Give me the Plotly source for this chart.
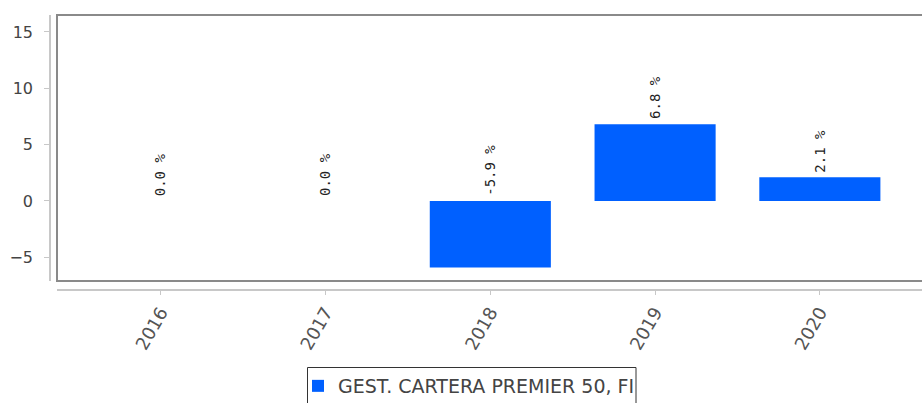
import plotly.graph_objects as go

years = ["2016", "2017", "2018", "2019", "2020"]
returns = [0.0, 0.0, -5.9, 6.8, 2.1]
labels = ["0.0 %", "0.0 %", "-5.9 %", "6.8 %", "2.1 %"]
series_name = "GEST. CARTERA PREMIER 50, FI"
y_ticks = [-5, 0, 5, 10, 15]

W, H = 922, 403
px_x = lambda p: p / W
px_y = lambda p: 1 - p / H

fig = go.Figure()
fig.add_trace(go.Bar(
    x=years, y=returns, name=series_name,
    marker=dict(color="#0060FF", line=dict(width=0)),
    width=0.735, showlegend=True,
))

for i, (v, t) in enumerate(zip(returns, labels)):
    fig.add_annotation(
        xref="x", yref="y",
        x=i, y=max(v, 0), text=t, textangle=-90, showarrow=False,
        xanchor="center", yanchor="bottom", yshift=3,
        font=dict(family="DejaVu Sans Mono", size=14, color="#222"),
    )

x0d, x1d = px_x(57), 1.0
y0d, y1d = px_y(281), px_y(15)

# plot frame
fig.add_shape(type="rect", xref="paper", yref="paper",
              x0=x0d, x1=1.05, y0=y0d, y1=y1d,
              line=dict(color="#8a8a8a", width=2), fillcolor="rgba(0,0,0,0)")
# legend frame
fig.add_shape(type="rect", xref="paper", yref="paper",
              x0=px_x(307.5), x1=px_x(636), y0=-0.05, y1=px_y(367.5),
              line=dict(color="#333", width=1), fillcolor="rgba(0,0,0,0)")

fig.update_layout(
    width=W, height=H,
    margin=dict(l=0, r=0, t=0, b=0, autoexpand=False),
    paper_bgcolor="white", plot_bgcolor="white",
    font=dict(family="DejaVu Sans", size=14, color="#444"),
    xaxis=dict(
        type="category",
        domain=[x0d, x1d], range=[-0.63, 4.62], anchor="free", position=px_y(290),
        showline=True, linecolor="#c8c8c8", linewidth=1.5,
        ticks="outside", ticklen=4, tickcolor="#c8c8c8",
        tickangle=-60, tickfont=dict(size=18, color="#555"),
        showgrid=False, zeroline=False, automargin=False,
    ),
    yaxis=dict(
        domain=[y0d, y1d], range=[-7.1, 16.5], anchor="free", position=px_x(50),
        tickvals=y_ticks, ticktext=[str(v).replace("-", "−") for v in y_ticks],
        showline=True, linecolor="#c8c8c8", linewidth=1.5,
        ticks="outside", ticklen=5, tickcolor="#c8c8c8",
        tickfont=dict(size=16, color="#444"), ticklabelstandoff=8,
        showgrid=False, zeroline=False, automargin=False,
    ),
    legend=dict(
        orientation="h", x=px_x(298), y=px_y(367), xanchor="left", yanchor="top",
        borderwidth=0, bgcolor="rgba(0,0,0,0)",
        font=dict(size=19, color="#444"),
    ),
    bargap=0.2,
)

fig.write_html(
    "out.html",
    config={"displayModeBar": False},
    post_script="document.body.style.margin='0';document.body.style.overflow='hidden';",
)
